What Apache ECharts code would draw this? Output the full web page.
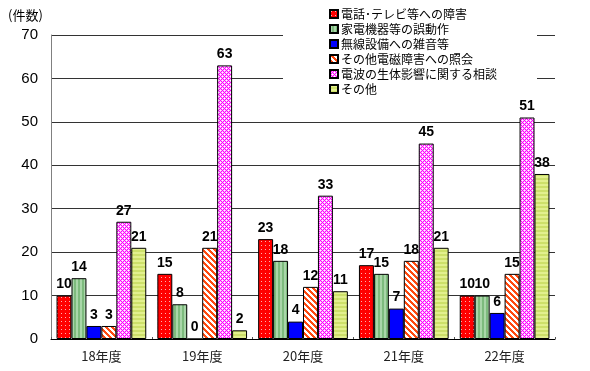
<!DOCTYPE html>
<html><head><meta charset="utf-8">
<script src="https://cdn.jsdelivr.net/npm/echarts@6/dist/echarts.min.js"></script>
<style>html,body{margin:0;padding:0;background:#fff}#c{width:590px;height:371px}</style>
</head><body><div id="c"></div>
<script>
var categories = ['18年度','19年度','20年度','21年度','22年度'];
var seriesNames = ['電話･テレビ等への障害','家電機器等の誤動作','無線設備への雑音等','その他電磁障害への照会','電波の生体影響に関する相談','その他'];
var tvInterference = [10,15,23,17,10];
var appliance = [14,8,18,15,10];
var radioNoise = [3,0,4,7,6];
var otherEmc = [3,21,12,18,15];
var healthConsult = [27,63,33,45,51];
var others = [21,2,11,21,38];
var yTicks = {min:0, max:70, interval:10};

function pat(w,h,draw){
  var c=document.createElement('canvas');c.width=w;c.height=h;
  var x=c.getContext('2d');draw(x,w,h);
  return {image:c, repeat:'repeat'};
}
var redP = pat(4,4,function(x){x.fillStyle='#ff0000';x.fillRect(0,0,4,4);x.fillStyle='#ffb0b0';x.fillRect(1,1,1,1);});
var greenP = pat(4,4,function(x){x.fillStyle='#7dbb7d';x.fillRect(0,0,4,4);x.fillStyle='#a9d6a9';x.fillRect(0,0,2,4);});
var blueP = '#0000ff';
var orangeP = pat(6,6,function(x){x.fillStyle='#ffffff';x.fillRect(0,0,6,6);x.fillStyle='#ff4a10';
  for(var i=0;i<6;i++){x.fillRect(i,i,1,1);x.fillRect((i+1)%6,i,1,1);x.fillRect((i+2)%6,i,1,1);}});
var magP = pat(4,4,function(x){x.fillStyle='#ffb0ff';x.fillRect(0,0,4,4);x.fillStyle='#ff00ff';
  x.fillRect(0,0,1,1);x.fillRect(1,1,1,1);x.fillRect(2,2,1,1);x.fillRect(3,3,1,1);
  x.fillRect(3,1,1,1);x.fillRect(1,3,1,1);x.fillStyle='#ffffff';x.fillRect(2,0,1,1);x.fillRect(0,2,1,1);});
var yelP = pat(4,4,function(x){x.fillStyle='#cde06a';x.fillRect(0,0,4,4);x.fillStyle='#e2f08e';x.fillRect(0,0,4,2);});
var fills=[redP,greenP,blueP,orangeP,magP,yelP];
var datas=[tvInterference,appliance,radioNoise,otherEmc,healthConsult,others];

var chart=echarts.init(document.getElementById('c'),null,{renderer:'canvas'});
var series=seriesNames.map(function(n,i){
  return {name:n,type:'bar',data:datas[i],barGap:'0%',barCategoryGap:'11%',
    itemStyle:{color:fills[i],borderColor:'#000',borderWidth:1},
    label:{show:true,position:'top',distance:4,color:'#000',fontFamily:'Liberation Sans, Arial, sans-serif',fontWeight:'bold',fontSize:14},
    emphasis:{disabled:true}};
});
chart.setOption({
  animation:false,
  backgroundColor:'#fff',
  textStyle:{fontFamily:'"Noto Sans CJK JP", sans-serif'},
  graphic:[{type:'text',left:8,top:9,style:{text:'(件数)',fill:'#000',font:'13px "Noto Sans CJK JP", sans-serif'}}],
  legend:{orient:'vertical',left:283,top:0,padding:[8,40,3,46],backgroundColor:'#fff',
    itemWidth:8,itemHeight:8,itemGap:3,icon:'rect',
    textStyle:{fontSize:12,color:'#000',fontFamily:'"Noto Sans CJK JP", sans-serif',padding:[0,0,0,-2]},z:10},
  grid:{left:51,right:35,top:35,bottom:32},
  xAxis:{type:'category',data:categories,
    axisLine:{lineStyle:{color:'#000',width:1}},
    axisTick:{show:true,inside:true,length:2,lineStyle:{color:'#555'}},
    axisLabel:{color:'#222',fontSize:13,margin:11,fontFamily:'"Noto Sans CJK JP", sans-serif'}},
  yAxis:{type:'value',min:yTicks.min,max:yTicks.max,interval:yTicks.interval,
    axisLine:{show:true,lineStyle:{color:'#808080'}},
    axisTick:{show:false},
    splitLine:{lineStyle:{color:'#333',width:1}},
    axisLabel:{color:'#000',fontSize:15,margin:13,fontFamily:'Liberation Sans, Arial, sans-serif'}},
  series:series
});
</script></body></html>
